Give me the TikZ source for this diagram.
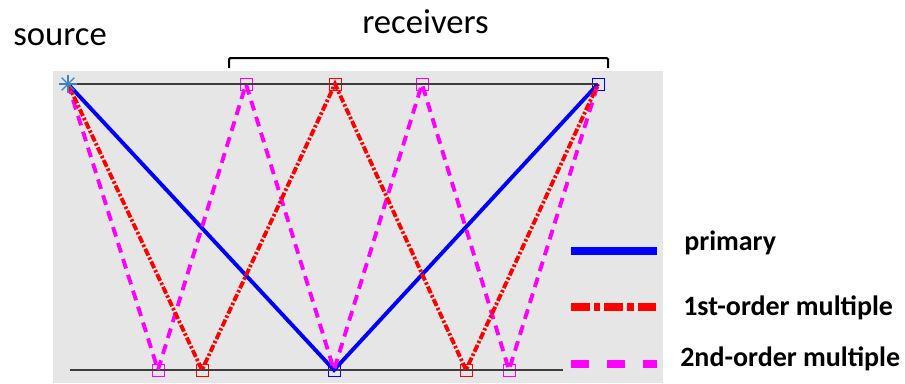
\documentclass[tikz,border=0pt]{standalone}
\usepackage{fontspec}
\setmainfont{Carlito}
\definecolor{bggray}{HTML}{E6E6E6}
\definecolor{starblue}{HTML}{3A82C4}
\definecolor{linegray}{HTML}{3C3C3C}
\definecolor{rayblue}{HTML}{0000FF}
\definecolor{rayred}{HTML}{FF0000}
\definecolor{raymag}{HTML}{FF00FF}
\begin{document}
\begin{tikzpicture}[x=0.75pt, y=-0.75pt,
  rx/.style={draw, rectangle, minimum size=9pt, inner sep=0pt, line width=0.75pt},
  prim/.style={rayblue, line width=2.9pt},
  mult1/.style={rayred, line width=2.9pt, dash pattern=on 5.5pt off 1.6pt on 1.8pt off 1.6pt},
  mult2/.style={raymag, line width=2.9pt, dash pattern=on 7.5pt off 5pt},
  lbl/.style={font=\fontsize{21}{24}\selectfont\bfseries, anchor=base west, inner sep=0pt},
  big/.style={font=\fontsize{26}{30}\selectfont, anchor=base west, inner sep=0pt}]
\useasboundingbox (0,0) rectangle (905,383);
\fill[bggray] (53,71) rectangle (663,383);
\node[inner sep=0pt, minimum size=0pt] (src) at (68,84) {};
\node[rx, raymag] (r1) at (246,84) {};
\node[rx, rayred] (r2) at (335,84) {};
\node[rx, raymag] (r3) at (422,84) {};
\node[rx, rayblue] (r4) at (598,84) {};
\node[rx, raymag] (b1) at (158,370) {};
\node[rx, rayred] (b2) at (202,370) {};
\node[rx, rayblue] (b3) at (334,370) {};
\node[rx, rayred] (b4) at (466,370) {};
\node[rx, raymag] (b5) at (509,370) {};
\coordinate (bl) at (70,370);
\coordinate (br) at (563,370);
\draw[linegray, line width=1.5pt] (src.center) -- (r4.center);
\draw[linegray, line width=1.5pt] (bl) -- (br);
\draw[prim] (src.center) -- (b3.center) -- (r4.center);
\draw[mult2] (src.center) -- (b1.center) -- (r1.center) -- (b3.center) -- (r3.center) -- (b5.center) -- (r4.center);
\draw[mult1] (src.center) -- (b2.center) -- (r2.center) -- (b4.center) -- (r4.center);
\foreach \a in {0,45,90,135}
  \draw[starblue, line width=1pt] ([shift={(\a:9)}]src.center) -- ([shift={(\a+180:9)}]src.center);
\draw[line width=1.5pt, rounded corners=1pt] (229,68) -- (229,58) -- (608,58) -- (608,68);
\node[big] (srclbl) at (13,45) {source};
\node[big] (rcvlbl) at (362,33) {receivers};
\draw[prim, line width=6pt] (571,251) -- (657,251);
\draw[mult1, line width=6pt, dash pattern=on 14pt off 3pt on 5pt off 3pt] (571,307) -- (657,307);
\draw[mult2, line width=6pt, dash pattern=on 13.5pt off 13.5pt] (571,364) -- (657,364);
\node[lbl] (lprim) at (684,250) {primary};
\node[lbl] (lmult1) at (683,315) {1st-order multiple};
\node[lbl] (lmult2) at (680,366) {2nd-order multiple};
\end{tikzpicture}
\end{document}
